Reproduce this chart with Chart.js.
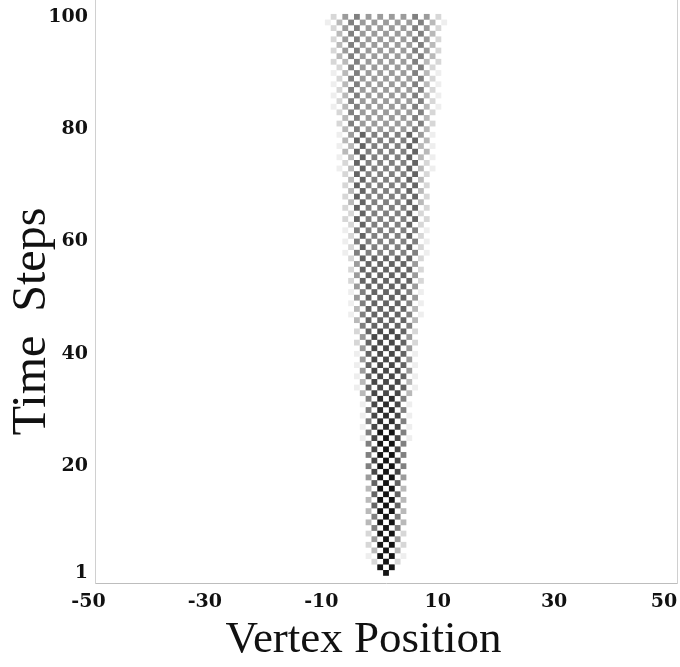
<!DOCTYPE html>
<html>
<head>
<meta charset="utf-8">
<script src="https://cdn.jsdelivr.net/npm/chart.js@4.4.0/dist/chart.umd.min.js"></script>
<style>
html,body{margin:0;padding:0;background:#ffffff;}
#wrap{width:680px;height:667px;position:relative;}
</style>
</head>
<body>
<div id="wrap"><canvas id="c"></canvas></div>
<script>
// ---- data ----
const positions = [-12,-11,-10,-9,-8,-7,-6,-5,-4,-3,-2,-1,0,1,2,3,4,5,6,7,8,9,10,11,12];
const timeSteps = [1,2,3,4,5,6,7,8,9,10,11,12,13,14,15,16,17,18,19,20,
  21,22,23,24,25,26,27,28,29,30,31,32,33,34,35,36,37,38,39,40,
  41,42,43,44,45,46,47,48,49,50,51,52,53,54,55,56,57,58,59,60,
  61,62,63,64,65,66,67,68,69,70,71,72,73,74,75,76,77,78,79,80,
  81,82,83,84,85,86,87,88,89,90,91,92,93,94,95,96,97,98,99,100];
// darkness level 0 (white) .. 9 (black) per time step (row) and vertex position (column)
const densityRows = [
  "0000000000009000000000000", // 1
  "0000000000090900000000000", // 2
  "0000000000209020000000000", // 3
  "0000000001090901000000000", // 4
  "0000000000309030000000000", // 5
  "0000000002090902000000000", // 6
  "0000000000409040000000000", // 7
  "0000000002090902000000000", // 8
  "0000000000509050000000000", // 9
  "0000000003090903000000000", // 10
  "0000000000509050000000000", // 11
  "0000000003090903000000000", // 12
  "0000000000609060000000000", // 13
  "0000000003090903000000000", // 14
  "0000000000609060000000000", // 15
  "0000000003090903000000000", // 16
  "0000000000609060000000000", // 17
  "0000000004090904000000000", // 18
  "0000000000709070000000000", // 19
  "0000000005090905000000000", // 20
  "0000000000709070000000000", // 21
  "0000000005090905000000000", // 22
  "0000000000709070000000000", // 23
  "0000000005090905000000000", // 24
  "0000000010709070100000000", // 25
  "0000000005090905000000000", // 26
  "0000000010708070100000000", // 27
  "0000000005080805000000000", // 28
  "0000000010708070100000000", // 29
  "0000000005080805000000000", // 30
  "0000000010708070100000000", // 31
  "0000000005080805000000000", // 32
  "0000000030707070300000000", // 33
  "0000000106070706010000000", // 34
  "0000000030707070300000000", // 35
  "0000000106070706010000000", // 36
  "0000000040707070400000000", // 37
  "0000000106070706010000000", // 38
  "0000000040707070400000000", // 39
  "0000000106070706010000000", // 40
  "0000000040707070400000000", // 41
  "0000000206070706020000000", // 42
  "0000000040707070400000000", // 43
  "0000000206070706020000000", // 44
  "0000000050606060500000000", // 45
  "0000000306060606030000000", // 46
  "0000001050606060501000000", // 47
  "0000000306060606030000000", // 48
  "0000001050606060501000000", // 49
  "0000000406060606040000000", // 50
  "0000001050606060501000000", // 51
  "0000000406060606040000000", // 52
  "0000002060606060602000000", // 53
  "0000000406060606040000000", // 54
  "0000002060606060602000000", // 55
  "0000000406060606040000000", // 56
  "0000002060606060602000000", // 57
  "0000010505050505050100000", // 58
  "0000002060505050602000000", // 59
  "0000010505050505050100000", // 60
  "0000002060505050602000000", // 61
  "0000010505050505050100000", // 62
  "0000002060505050602000000", // 63
  "0000020605050505060200000", // 64
  "0000002060505050602000000", // 65
  "0000020605050505060200000", // 66
  "0000003060505050603000000", // 67
  "0000020605050505060200000", // 68
  "0000003060505050603000000", // 69
  "0000020605050505060200000", // 70
  "0000003060505050603000000", // 71
  "0000020605050505060200000", // 72
  "0000103060505050603010000", // 73
  "0000020605050505060200000", // 74
  "0000103060505050603010000", // 75
  "0000030605050505060300000", // 76
  "0000103060505050603010000", // 77
  "0000030605050505060300000", // 78
  "0000104060505050604010000", // 79
  "0000030504040404050300000", // 80
  "0000205040404040405020000", // 81
  "0000030504040404050300000", // 82
  "0000205040404040405020000", // 83
  "0001030504040404050301000", // 84
  "0000205040404040405020000", // 85
  "0001030504040404050301000", // 86
  "0000205040404040405020000", // 87
  "0001030504040404050301000", // 88
  "0000205040404040405020000", // 89
  "0001030504040404050301000", // 90
  "0000205040404040405020000", // 91
  "0002030504040404050302000", // 92
  "0000305040404040405030000", // 93
  "0002040504040404050402000", // 94
  "0000305040404040405030000", // 95
  "0002040504040404050402000", // 96
  "0000305040404040405030000", // 97
  "0002040504040404050402000", // 98
  "0010305040404040405030100", // 99
  "0002040504040404050402000"  // 100
];
const xTickValues = [-50, -30, -10, 10, 30, 50];
const yTickValues = [1, 20, 40, 60, 80, 100];
const xTitle = 'Vertex Position';
const yTitle = 'Time  Steps';

// ---- styles ----
const levelGray = [255, 238, 215, 185, 155, 128, 100, 72, 45, 20];
function grayFor(v) {
  const g = levelGray[v] !== undefined ? levelGray[v] : 255;
  return 'rgb(' + g + ',' + g + ',' + g + ')';
}

// ---- build points for the library ----
const cells = [];
densityRows.forEach((row, r) => {
  for (let c = 0; c < row.length; c++) {
    const v = +row[c];
    if (v > 0) cells.push({ x: positions[c], y: timeSteps[r], v: v });
  }
});

const tickFont = { family: 'DejaVu Serif', weight: 'bold', size: 19 };

new Chart(document.getElementById('c'), {
  type: 'scatter',
  data: {
    datasets: [{
      data: cells,
      showLine: false,
      pointStyle: 'rect',
      pointBorderWidth: 0,
      pointBackgroundColor: ctx => grayFor(ctx.raw ? ctx.raw.v : 0),
      pointRadius: ctx => {
        const xs = ctx.chart.scales.x;
        return Math.abs(xs.getPixelForValue(1) - xs.getPixelForValue(0)) / Math.SQRT2;
      }
    }]
  },
  options: {
    responsive: true,
    maintainAspectRatio: false,
    animation: false,
    events: [],
    layout: { padding: { top: 0, right: 3, left: 0, bottom: 0 } },
    plugins: { legend: { display: false }, tooltip: { enabled: false } },
    scales: {
      x: {
        type: 'linear', min: -50, max: 50,
        afterBuildTicks: s => { s.ticks = xTickValues.map(v => ({ value: v })); },
        afterFit: s => { s.height = 84; s.paddingLeft = 0; s.paddingRight = 0; },
        grid: { display: false, drawTicks: false },
        border: { display: true, color: '#bdbdbd', width: 1 },
        ticks: {
          font: tickFont, color: '#111', padding: 8, labelOffset: -6.5, maxRotation: 0, autoSkip: false,
          callback: v => (v === xTickValues[xTickValues.length - 1] ? String(v) + '  ' : String(v))
        },
        title: { display: true, text: xTitle + '    ', color: '#111',
                 font: { family: 'Liberation Serif', size: 45 }, padding: { top: 0, bottom: 0 } }
      },
      y: {
        type: 'linear', min: -0.8, max: 103,
        afterBuildTicks: s => { s.ticks = yTickValues.map(v => ({ value: v })); },
        afterFit: s => { s.width = 95; s.paddingTop = 0; s.paddingBottom = 0; },
        grid: { display: false, drawTicks: false },
        border: { display: true, color: '#d0d0d0', width: 1 },
        ticks: { font: tickFont, color: '#111', padding: 7, autoSkip: false },
        title: { display: true, text: yTitle + '     ', color: '#111',
                 font: { family: 'Liberation Serif', size: 48 }, padding: { top: 4, bottom: 0 } }
      },
      y2: {
        type: 'linear', position: 'right', min: -0.8, max: 103,
        afterFit: s => { s.width = 0; s.paddingTop = 0; s.paddingBottom = 0; },
        grid: { display: false, drawTicks: false },
        border: { display: true, color: '#d0d0d0', width: 1 },
        ticks: { display: false }
      }
    }
  }
});
</script>
</body>
</html>
